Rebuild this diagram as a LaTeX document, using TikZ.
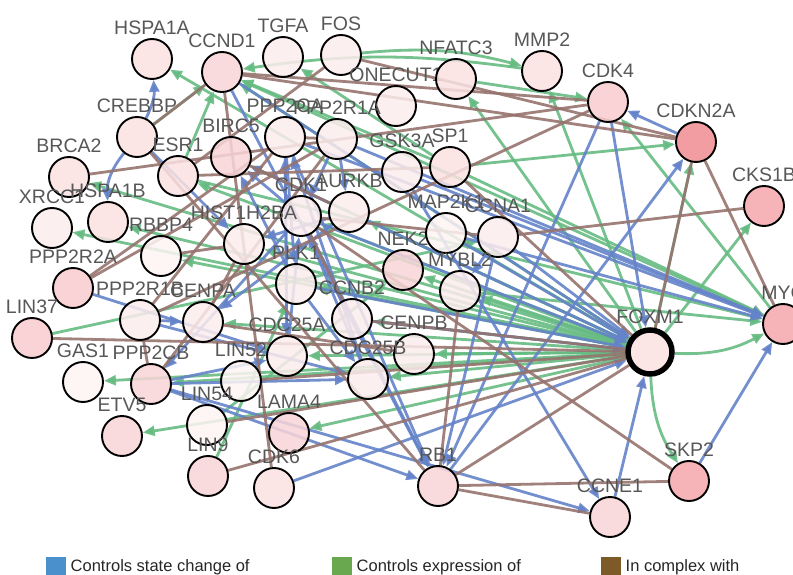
\documentclass[tikz,border=0pt]{standalone}
\usepackage{fontspec}
\setmainfont{Liberation Sans}
\usetikzlibrary{arrows.meta,positioning}
\pgfdeclarelayer{background}
\pgfsetlayers{background,main}

\definecolor{stateblue}{RGB}{101,131,201}
\definecolor{exprgreen}{RGB}{102,187,130}
\definecolor{cplxbrown}{RGB}{150,115,110}
\definecolor{keyblue}{RGB}{74,144,205}
\definecolor{keygreen}{RGB}{106,168,79}
\definecolor{keybrown}{RGB}{125,90,40}
\definecolor{s1}{HTML}{FDF4F2}
\definecolor{s2}{HTML}{FCECEC}
\definecolor{s3}{HTML}{FAE1E1}
\definecolor{s4}{HTML}{F9D5D7}
\definecolor{s5}{HTML}{F8CBCE}
\definecolor{s6}{HTML}{F4A7AC}
\definecolor{s7}{HTML}{F08C90}

\begin{document}
\begin{tikzpicture}[x=1pt, y=1pt,
    gene/.style={circle, draw=black, line width=1.9pt, fill=#1, fill opacity=0.85,
        text opacity=1, minimum size=40pt, inner sep=0pt},
    every label/.style={font=\fontsize{19.5}{19.5}\selectfont, text=black!66},
    state/.style={-{Triangle[length=12pt,width=10pt]}, draw=stateblue, line width=2.8pt, draw opacity=0.9},
    expr/.style={-{Triangle[length=12pt,width=10pt]}, draw=exprgreen, line width=2.8pt, draw opacity=0.9},
    cplx/.style={draw=cplxbrown, line width=2.8pt, draw opacity=0.9},
    keybox/.style={minimum size=20pt, inner sep=0pt},
    legend/.style={font=\fontsize{16.5}{16.5}\selectfont, text=black!85}]
    \useasboundingbox (0,0) rectangle (793,-575);

    \node[gene=s3, label=above:HSPA1A] (hspa1a) at (152,-59) {};
    \node[gene=s4, label=above:CCND1] (ccnd1) at (222,-72) {};
    \node[gene=s2, label=above:TGFA] (tgfa) at (283,-57) {};
    \node[gene=s2, label=above:FOS] (fos) at (341,-55) {};
    \node[gene=s2, label=above:ONECUT1] (onecut1) at (396,-106) {};
    \node[gene=s3, label=above:NFATC3] (nfatc3) at (456,-79) {};
    \node[gene=s3, label=above:MMP2] (mmp2) at (542,-71) {};
    \node[gene=s5, label=above:CDK4] (cdk4) at (608,-102) {};
    \node[gene=s7, label=above:CDKN2A] (cdkn2a) at (696,-142) {};
    \node[gene=s6, label=above:CKS1B] (cks1b) at (764,-206) {};
    \node[gene=s6, label=above:MYC] (myc) at (783,-324) {};
    \node[gene=s3, line width=5.5pt, minimum size=44pt, label=above:FOXM1] (foxm1) at (650,-352) {};
    \node[gene=s6, label=above:SKP2] (skp2) at (689,-481) {};
    \node[gene=s4, label=above:CCNE1] (ccne1) at (610,-517) {};
    \node[gene=s4, label=above:RB1] (rb1) at (438,-486) {};
    \node[gene=s3, label=above:CREBBP] (crebbp) at (137,-137) {};
    \node[gene=s3, label=above:BRCA2] (brca2) at (69,-177) {};
    \node[gene=s3, label=above:ESR1] (esr1) at (178,-176) {};
    \node[gene=s4, label=above:BIRC5] (birc5) at (231,-157) {};
    \node[gene=s2, label=above:PPP2CA] (ppp2ca) at (285,-137) {};
    \node[gene=s2, label=above:PPP2R1A] (ppp2r1a) at (337,-139) {};
    \node[gene=s2, label=above:GSK3A] (gsk3a) at (402,-172) {};
    \node[gene=s3, label=above:SP1] (sp1) at (450,-167) {};
    \node[gene=s2, label=above:CDK1] (cdk1) at (301,-216) {};
    \node[gene=s2, label=above:AURKB] (aurkb) at (349,-212) {};
    \node[gene=s3, label=above:HSPA1B] (hspa1b) at (108,-222) {};
    \node[gene=s2, label=above:XRCC1] (xrcc1) at (52,-228) {};
    \node[gene=s1, label=above:RBBP4] (rbbp4) at (161,-256) {};
    \node[gene=s2, label=above:HIST1H2BA] (hist1h2ba) at (244,-244) {};
    \node[gene=s2, label=above:PLK1] (plk1) at (296,-284) {};
    \node[gene=s5, label=above:PPP2R2A] (ppp2r2a) at (73,-288) {};
    \node[gene=s2, label=above:PPP2R1B] (ppp2r1b) at (140,-320) {};
    \node[gene=s2, label=above:CENPA] (cenpa) at (203,-322) {};
    \node[gene=s2, label=above:CCNB2] (ccnb2) at (352,-319) {};
    \node[gene=s4, label=above:NEK2] (nek2) at (403,-270) {};
    \node[gene=s1, label=above:MAP2K1] (map2k1) at (446,-233) {};
    \node[gene=s2, label=above:CCNA1] (ccna1) at (498,-237) {};
    \node[gene=s2, label=above:MYBL2] (mybl2) at (460,-291) {};
    \node[gene=s5, label=above:LIN37] (lin37) at (32,-338) {};
    \node[gene=s1, label=above:GAS1] (gas1) at (83,-382) {};
    \node[gene=s4, label=above:PPP2CB] (ppp2cb) at (151,-384) {};
    \node[gene=s2, label=above:CDC25A] (cdc25a) at (287,-356) {};
    \node[gene=s2, label=above:CENPB] (cenpb) at (414,-354) {};
    \node[gene=s1, label=above:LIN52] (lin52) at (241,-381) {};
    \node[gene=s2, label=above:CDC25B] (cdc25b) at (368,-379) {};
    \node[gene=s1, label=above:LIN54] (lin54) at (207,-425) {};
    \node[gene=s4, label=above:ETV5] (etv5) at (122,-436) {};
    \node[gene=s4, label=above:LAMA4] (lama4) at (289,-433) {};
    \node[gene=s4, label=above:LIN9] (lin9) at (208,-476) {};
    \node[gene=s3, label=above:CDK6] (cdk6) at (274,-488) {};

    \begin{pgfonlayer}{background}
    \draw[expr] (foxm1) -- (ccnd1);
    \draw[expr] (foxm1) -- (birc5);
    \draw[expr] (foxm1) -- (cdk1);
    \draw[expr] (foxm1) -- (aurkb);
    \draw[expr] (foxm1) -- (plk1);
    \draw[expr] (foxm1) -- (ccnb2);
    \draw[expr] (foxm1) -- (cenpa);
    \draw[expr] (foxm1) -- (cenpb);
    \draw[expr] (foxm1) -- (cdc25a);
    \draw[expr] (foxm1) -- (cdc25b);
    \draw[expr] (foxm1) -- (nek2);
    \draw[expr] (foxm1) -- (xrcc1);
    \draw[expr] (foxm1) -- (brca2);
    \draw[expr] (foxm1) -- (esr1);
    \draw[expr] (foxm1) -- (hist1h2ba);
    \draw[expr] (foxm1) -- (hspa1b);
    \draw[expr] (foxm1) -- (hspa1a);
    \draw[expr] (foxm1) -- (rbbp4);
    \draw[expr] (foxm1) -- (ppp2cb);
    \draw[expr] (foxm1) -- (mybl2);
    \draw[expr] (foxm1) -- (gas1);
    \draw[expr] (foxm1) -- (etv5);
    \draw[expr] (foxm1) -- (lama4);
    \draw[expr] (foxm1) -- (cdkn2a);
    \draw[expr] (foxm1) -- (cks1b);
    \draw[expr] (foxm1) to[bend right=15] (myc);
    \draw[expr] (foxm1) to[bend right=15] (skp2);
    \draw[expr] (foxm1) -- (mmp2);
    \draw[expr] (foxm1) -- (nfatc3);
    \draw[expr] (nfatc3) -- (cdk4);
    \draw[expr] (myc) -- (cdk4);
    \draw[expr] (myc) -- (ccnd1);
    \draw[expr] (esr1) -- (ccnd1);
    \draw[expr] (esr1) -- (myc);
    \draw[expr] (sp1) -- (myc);
    \draw[expr] (sp1) -- (ccnd1);
    \draw[expr] (sp1) -- (tgfa);
    \draw[expr] (sp1) -- (cdkn2a);
    \draw[expr] (crebbp) -- (ccnd1);
    \draw[expr] (fos) to[bend left=10] (mmp2);
    \draw[expr] (mmp2) to[bend right=8] (ccnd1);
    \draw[expr] (lin9) -- (plk1);
    \draw[expr] (lin54) -- (nek2);
    \draw[expr] (lin37) -- (ccna1);
    \draw[expr] (mybl2) -- (myc);

    \draw[state] (cdkn2a) -- (cdk4);
    \draw[state] (skp2) -- (myc);
    \draw[state] (ccne1) -- (foxm1);
    \draw[state] (cdk6) -- (foxm1);
    \draw[state] (ccnd1) -- (foxm1);
    \draw[state] (cdk4) -- (foxm1);
    \draw[state] (cdk1) -- (foxm1);
    \draw[state] (plk1) -- (foxm1);
    \draw[state] (aurkb) -- (foxm1);
    \draw[state] (ccnb2) -- (foxm1);
    \draw[state] (ccna1) -- (foxm1);
    \draw[state] (map2k1) -- (foxm1);
    \draw[state] (rb1) -- (cdkn2a);
    \draw[state] (gsk3a) -- (myc);
    \draw[state] (map2k1) -- (myc);
    \draw[state] (ppp2ca) -- (myc);
    \draw[state] (ppp2r1a) -- (myc);
    \draw[state] (gsk3a) -- (ccne1);
    \draw[state] (cdk4) -- (rb1);
    \draw[state] (ccnd1) -- (rb1);
    \draw[state] (cdk1) -- (rb1);
    \draw[state] (ccna1) -- (rb1);
    \draw[state] (ppp2cb) -- (rb1);
    \draw[state] (ppp2ca) -- (rb1);
    \draw[state] (ppp2cb) -- (ccne1);
    \draw[state] (crebbp) to[bend right=15] (hspa1a);
    \draw[state] (crebbp) to[bend right=20] (hspa1b);
    \draw[state] (crebbp) -- (hist1h2ba);
    \draw[state] (cdk1) -- (birc5);
    \draw[state] (aurkb) -- (birc5);
    \draw[state] (plk1) -- (birc5);
    \draw[state] (ppp2ca) -- (cdc25a);
    \draw[state] (ppp2ca) -- (plk1);
    \draw[state] (ppp2r1a) -- (aurkb);
    \draw[state] (ppp2r1a) -- (cdk1);
    \draw[state] (ppp2r2a) -- (cdc25a);
    \draw[state] (ppp2r1b) -- (cenpa);
    \draw[state] (ppp2r1b) -- (cdc25b);
    \draw[state] (ppp2cb) -- (cdc25a);
    \draw[state] (ppp2cb) -- (cdc25b);
    \draw[state] (cdc25a) -- (cdk1);
    \draw[state] (cdc25b) -- (cdk1);
    \draw[state] (cdc25a) -- (ppp2ca);
    \draw[state] (cdc25b) -- (ppp2ca);
    \draw[state] (plk1) -- (cdc25b);
    \draw[state] (aurkb) -- (cenpa);
    \draw[state] (cdk1) -- (ppp2cb);
    \draw[state] (ccna1) -- (mybl2);
    \draw[state] (aurkb) -- (hist1h2ba);

    \draw[cplx] (fos) -- (cdkn2a);
    \draw[cplx] (fos) -- (esr1);
    \draw[cplx] (brca2) -- (cdk4);
    \draw[cplx] (cks1b) -- (ccna1);
    \draw[cplx] (cdkn2a) -- (myc);
    \draw[cplx] (cdkn2a) -- (foxm1);
    \draw[cplx] (rb1) -- (skp2);
    \draw[cplx] (rb1) -- (ccne1);
    \draw[cplx] (skp2) -- (cdk1);
    \draw[cplx] (rb1) -- (foxm1);
    \draw[cplx] (rb1) -- (mybl2);
    \draw[cplx] (crebbp) -- (rb1);
    \draw[cplx] (crebbp) -- (ccnd1);
    \draw[cplx] (foxm1) -- (ccnb2);
    \draw[cplx] (foxm1) -- (sp1);
    \draw[cplx] (lin9) -- (foxm1);
    \draw[cplx] (lin54) -- (foxm1);
    \draw[cplx] (lin52) -- (foxm1);
    \draw[cplx] (lin37) -- (foxm1);
    \draw[cplx] (ccnd1) -- (cdk4);
    \draw[cplx] (ccnd1) -- (cdkn2a);
    \draw[cplx] (ccnd1) -- (cdk6);
    \draw[cplx] (cdk4) -- (ppp2r1b);
    \draw[cplx] (cdk1) -- (ccnb2);
    \draw[cplx] (cdk1) -- (ccna1);
    \draw[cplx] (hist1h2ba) -- (rbbp4);
    \draw[cplx] (hist1h2ba) -- (cenpa);
    \draw[cplx] (esr1) -- (sp1);
    \draw[cplx] (ppp2ca) -- (ppp2r1a);
    \draw[cplx] (ppp2ca) -- (ppp2r1b);
    \draw[cplx] (ppp2cb) -- (ppp2r1a);
    \draw[cplx] (ppp2r2a) -- (ppp2ca);
    \draw[cplx] (ppp2r1b) -- (ppp2cb);
    \draw[cplx] (ppp2r2a) -- (ppp2r1a);
    \draw[cplx] (birc5) -- (aurkb);
    \draw[cplx] (cenpa) -- (cenpb);
    \end{pgfonlayer}

    \node[keybox, fill=keyblue] (keystate) at (56,-567) {};
    \node[legend, right=1pt of keystate] (txtstate) {Controls state change of};
    \node[keybox, fill=keygreen] (keyexpr) at (342,-567) {};
    \node[legend, right=1pt of keyexpr] (txtexpr) {Controls expression of};
    \node[keybox, fill=keybrown] (keycplx) at (611,-567) {};
    \node[legend, right=1pt of keycplx] (txtcplx) {In complex with};
\end{tikzpicture}
\end{document}
